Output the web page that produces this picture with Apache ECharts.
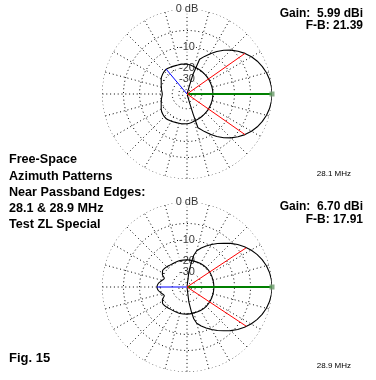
<!DOCTYPE html>
<html>
<head>
<meta charset="utf-8">
<script src="https://cdn.jsdelivr.net/npm/echarts@6/dist/echarts.min.js"></script>
<style>
html, body { margin: 0; padding: 0; background: #fff; }
#main { width: 376px; height: 380px; }
</style>
</head>
<body>
<div id="main"></div>
<script>
// azimuth in degrees, 0 = right, counter-clockwise; levels in dB below the peak
// 28.1 MHz - forward trace
var topFrontAngles = [286, 286.5, 287, 288, 290, 295, 300, 305, 310, 315, 320, 325, 330, 335, 340, 345, 350, 355,
  360, 5, 10, 15, 20, 25, 30, 35, 40, 45, 50, 55, 60, 65, 70, 72, 73, 73.5, 74];
var topFrontDb = [-80, -35, -24, -15, -14.3, -12.3, -10.35, -8.46, -6.8, -5.39, -4.19, -3.14, -2.28, -1.56, -1, -0.55, -0.24, -0.06,
  0, -0.06, -0.24, -0.55, -1, -1.56, -2.28, -3.14, -4.19, -5.39, -6.8, -8.46, -10.35, -12.3, -14.3, -15, -24, -35, -80];
// 28.1 MHz - rear trace
var topRearAngles = [0, 10, 20, 30, 40, 50, 60, 70, 80, 90, 100, 110, 120, 130, 140, 150, 160, 170, 180,
  190, 200, 210, 220, 230, 240, 250, 260, 270, 280, 290, 300, 310, 320, 330, 340, 350, 360];
var topRearDb = [-20.4, -20.4, -20.4, -20.3, -20.1, -19.9, -19.6, -19.2, -18.6, -18, -17.7, -17.6, -17.1, -16.6, -17, -18, -19.4, -20.4, -21.2,
  -20.4, -19.4, -18, -17, -16.6, -17.1, -17.6, -17.7, -18, -18.6, -19.2, -19.6, -19.9, -20.1, -20.3, -20.4, -20.4, -20.4];

// 28.9 MHz - forward trace
var botFrontAngles = [275, 277, 280, 282, 285, 290, 295, 300, 305, 310, 315, 320, 325, 330, 335, 340, 345, 350, 355,
  360, 5, 10, 15, 20, 25, 30, 35, 40, 45, 50, 55, 60, 65, 70, 75, 78, 80, 83, 85];
var botFrontDb = [-80, -30, -21, -16.5, -14, -12.3, -10.8, -9.4, -8.1, -6.8, -5.5, -4.3, -3.3, -2.4, -1.65, -1.05, -0.57, -0.25, -0.06,
  0, -0.06, -0.25, -0.57, -1.05, -1.65, -2.4, -3.3, -4.3, -5.5, -6.8, -8.1, -9.4, -10.8, -12.3, -14, -16.5, -21, -30, -80];
// 28.9 MHz - rear trace
var botRearAngles = [0, 15, 30, 45, 60, 75, 90, 105, 115, 128, 138, 146, 153, 159, 166, 173, 180,
  187, 194, 201, 207, 214, 222, 232, 245, 255, 270, 285, 300, 315, 330, 345, 360];
var botRearDb = [-19.7, -19.7, -19.6, -19.5, -19.6, -19.8, -19.6, -19.4, -19.5, -19.2, -18.5, -18.2, -19.3, -21.5, -20.3, -18.5, -17.9,
  -18.5, -20.3, -21.5, -19.3, -18.2, -18.5, -19.2, -19.5, -19.4, -19.6, -19.8, -19.6, -19.5, -19.6, -19.7, -19.7];

var ringDb = [0, -5, -10, -20, -30, -40, -50];
var ringLabelDb = [0, -10, -20, -30];
var ringLabels = ['0 dB', '-10', '-20', '-30'];
var spokeAngles = [0, 15, 30, 45, 60, 75, 90, 105, 120, 135, 150, 165, 180, 195, 210, 225, 240, 255, 270, 285, 300, 315, 330, 345];
var spokeInnerDb = -20;

// forward, -3 dB edges, worst rear
var topMarkAngles = [0, 35, 325, 130];
var topMarkDb = [0, -3.14, -3.14, -16.6];
var botMarkAngles = [0, 33.5, 326.5, 180];
var botMarkDb = [0, -3.1, -3.1, -17.91];
var markColors = ['#008000', '#ff0000', '#ff0000', '#0000ff'];

// ARRL log scale: 0.89 per 2 dB
function arrl(db) { return Math.pow(0.89, -db / 2); }

function trace(p, angles, dbs, smooth) {
  return {
    type: 'line', coordinateSystem: 'polar', polarIndex: p, symbol: 'none', smooth: smooth, silent: true, z: 3,
    data: angles.map(function (a, i) { return [arrl(dbs[i]), a]; }),
    lineStyle: { color: '#000', width: 1.1 }
  };
}

function buildSeries(p, frontA, frontDb, rearA, rearDb, markAngles, markDb) {
  var out = [];
  ringDb.forEach(function (d) {
    var pts = [];
    for (var a = 0; a <= 360; a += 2) pts.push([arrl(d), a]);
    out.push({
      type: 'line', coordinateSystem: 'polar', polarIndex: p, data: pts, symbol: 'none', silent: true, z: 1,
      lineStyle: { color: '#000', width: 1, type: [1, 2.8] }
    });
  });
  out.push({
    type: 'custom', coordinateSystem: 'polar', polarIndex: p, silent: true, z: 1,
    data: spokeAngles.map(function (a) { return [1, a]; }),
    renderItem: function (params, api) {
      var a = api.value(1);
      var p1 = api.coord([arrl(spokeInnerDb), a]);
      var p2 = api.coord([api.value(0), a]);
      return {
        type: 'line',
        shape: { x1: p1[0], y1: p1[1], x2: p2[0], y2: p2[1] },
        style: { stroke: '#000', lineWidth: 1, lineDash: [1, 2.8] }
      };
    }
  });
  out.push({
    type: 'scatter', coordinateSystem: 'polar', polarIndex: p, symbolSize: 0, silent: true, z: 2,
    data: ringLabelDb.map(function (d, i) { return { value: [arrl(d), 90], name: ringLabels[i] }; }),
    label: {
      show: true, position: 'inside', formatter: '{b}', color: '#000',
      fontFamily: 'Liberation Sans', fontSize: 11, backgroundColor: '#fff', padding: [0, 1]
    }
  });
  out.push(trace(p, frontA, frontDb, false));
  out.push(trace(p, rearA, rearDb, 0.3));
  markAngles.forEach(function (a, i) {
    out.push({
      type: 'line', coordinateSystem: 'polar', polarIndex: p, symbol: 'none', silent: true, z: 4,
      data: [[0, a], [arrl(markDb[i]), a]],
      lineStyle: { color: markColors[i], width: i === 0 ? 2 : 1 }
    });
  });
  out.push({
    type: 'scatter', coordinateSystem: 'polar', polarIndex: p, symbol: 'rect', symbolSize: 5, silent: true, z: 5,
    data: [[arrl(markDb[0]), markAngles[0]]],
    itemStyle: { color: '#6a9a6a' }
  });
  return out;
}

var boldFont = 'bold 12.6px "Liberation Sans", Arial, sans-serif';
var figFont = 'bold 13px "Liberation Sans", Arial, sans-serif';
var gainFont = 'bold 12px "Liberation Sans", Arial, sans-serif';
var smallFont = '8px "Liberation Sans", Arial, sans-serif';
function txt(x, y, s, font, align) {
  return { type: 'text', x: x, y: y, style: { text: s, font: font, fill: '#000', align: align || 'left', verticalAlign: 'middle' } };
}

var option = {
  animation: false,
  backgroundColor: '#fff',
  polar: [
    { center: [187, 94], radius: 85 },
    { center: [187, 287], radius: 85 }
  ],
  angleAxis: [
    { polarIndex: 0, type: 'value', min: 0, max: 360, startAngle: 0, clockwise: false, show: false },
    { polarIndex: 1, type: 'value', min: 0, max: 360, startAngle: 0, clockwise: false, show: false }
  ],
  radiusAxis: [
    { polarIndex: 0, type: 'value', min: 0, max: 1, show: false },
    { polarIndex: 1, type: 'value', min: 0, max: 1, show: false }
  ],
  series: buildSeries(0, topFrontAngles, topFrontDb, topRearAngles, topRearDb, topMarkAngles, topMarkDb)
    .concat(buildSeries(1, botFrontAngles, botFrontDb, botRearAngles, botRearDb, botMarkAngles, botMarkDb)),
  graphic: [
    txt(363, 14, 'Gain:  5.99 dBi', gainFont, 'right'),
    txt(363, 26, 'F-B: 21.39', gainFont, 'right'),
    txt(363, 207, 'Gain:  6.70 dBi', gainFont, 'right'),
    txt(363, 220, 'F-B: 17.91', gainFont, 'right'),
    txt(351, 174, '28.1 MHz', smallFont, 'right'),
    txt(351, 366, '28.9 MHz', smallFont, 'right'),
    txt(9, 160, 'Free-Space', boldFont),
    txt(9, 176.5, 'Azimuth Patterns', boldFont),
    txt(9, 193, 'Near Passband Edges:', boldFont),
    txt(9, 208.5, '28.1 & 28.9 MHz', boldFont),
    txt(9, 224.5, 'Test ZL Special', boldFont),
    txt(9, 358, 'Fig. 15', figFont)
  ]
};

var myChart = echarts.init(document.getElementById('main'));
myChart.setOption(option);
</script>
</body>
</html>
